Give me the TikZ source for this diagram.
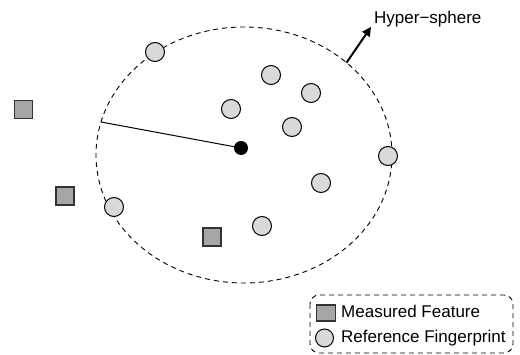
\documentclass[tikz,border=0pt]{standalone}
\usepackage{fontspec}
\setmainfont{Liberation Sans}
\usetikzlibrary{shapes.geometric,arrows.meta}
\definecolor{featfill}{HTML}{A6A6A6}
\definecolor{featline}{HTML}{333333}
\definecolor{fpfill}{HTML}{D9D9D9}
\begin{document}
\begin{tikzpicture}[x=1pt,y=-1pt,
  feature/.style={rectangle,draw=featline,line width=1.2pt,fill=featfill,
    minimum size=18pt,inner sep=0pt},
  fingerprint/.style={circle,draw=black,line width=1pt,fill=fpfill,
    minimum size=19pt,inner sep=0pt},
  label/.style={font=\fontsize{17}{20}\selectfont,inner sep=0pt,anchor=west},
  bound/.style={dashed,dash pattern=on 5pt off 4pt,line width=0.9pt}]
\useasboundingbox (0,0) rectangle (520,355);

% hyper-sphere boundary
\node[ellipse,bound,draw,minimum width=296pt,minimum height=256pt,
  inner sep=0pt,outer sep=0pt] (hs) at (244,155) {};

% centre and radius
\node[circle,fill=black,minimum size=14pt,inner sep=0pt] (ctr) at (241,148) {};
\draw[line width=1pt] (ctr.center) -- (hs.167.9);

% label arrow
\node[label] (hslabel) at (374,19) {Hyper−sphere};
\coordinate (tip) at (371,27);
\draw[line width=2pt,-{Triangle[length=9pt,width=9pt]}] (hs.42.4) -- (tip);

% reference fingerprints
\node[fingerprint] (f1) at (155,52) {};
\node[fingerprint] (f2) at (271,75) {};
\node[fingerprint] (f3) at (311,93) {};
\node[fingerprint] (f4) at (231,109) {};
\node[fingerprint] (f5) at (292,127) {};
\node[fingerprint] (f6) at (388,156) {};
\node[fingerprint] (f7) at (321,183) {};
\node[fingerprint] (f8) at (114,207) {};
\node[fingerprint] (f9) at (262,226) {};

% measured features
\node[feature] (m1) at (23.5,109.5) {};
\node[feature] (m2) at (65,196) {};
\node[feature] (m3) at (212,237) {};

% legend
\draw[bound,rounded corners=9pt] (310,295) rectangle (513,353);
\node[feature,minimum width=19pt,minimum height=16pt] (lsq) at (326,313) {};
\node[fingerprint,minimum size=18pt] (lci) at (324.5,338) {};
\node[label] (lt1) at (341,311) {Measured Feature};
\node[label] (lt2) at (341,338) {Reference Fingerprint};
\end{tikzpicture}
\end{document}
